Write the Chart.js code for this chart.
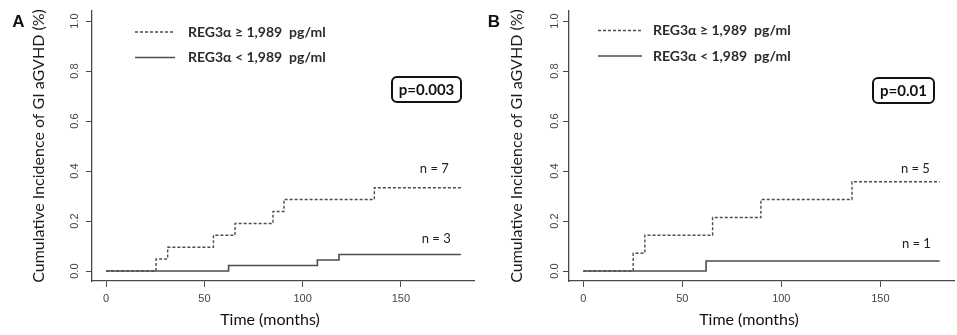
<!DOCTYPE html>
<html><head><meta charset="utf-8">
<script src="https://cdn.jsdelivr.net/npm/chart.js@4.4.1/dist/chart.umd.min.js"></script>
<style>
html,body{margin:0;padding:0;background:#fff;}
#wrap{position:relative;width:957px;height:335px;overflow:hidden;background:#fff;}
.panel{position:absolute;top:0;height:335px;}
</style></head><body>
<div id="wrap">
<div class="panel" style="left:0;width:479px"><canvas id="cA" width="479" height="335"></canvas></div>
<div class="panel" style="left:479px;width:478px"><canvas id="cB" width="478" height="335"></canvas></div>
</div>
<script>
// ---- data ----
const timeTicks = [0, 50, 100, 150];
const incidenceTicks = [0, 0.2, 0.4, 0.6, 0.8, 1.0];
const seriesLabels = ['REG3\u03b1 \u2265 1,989  pg/ml', 'REG3\u03b1 < 1,989  pg/ml'];
const panelLetters = ['A', 'B'];
const pValueLabels = ['p=0.003', 'p=0.01'];
const yAxisTitle = 'Cumulative Incidence of GI aGVHD (%)';
const xAxisTitle = 'Time (months)';

// Panel A
const aHighTime = [0, 25.4, 31.3, 54.6, 65.6, 84.9, 90.5, 136.5, 180.5];
const aHighCI   = [0, 0.048, 0.095, 0.143, 0.190, 0.238, 0.286, 0.333, 0.333];
const aLowTime  = [0, 62.3, 107.5, 118.5, 180.5];
const aLowCI    = [0, 0.022, 0.044, 0.066, 0.066];
const aCounts   = ['n = 7', 'n = 3'];

// Panel B
const bHighTime = [0, 25.2, 31.1, 65.3, 89.7, 135.7, 180];
const bHighCI   = [0, 0.071, 0.143, 0.214, 0.286, 0.357, 0.357];
const bLowTime  = [0, 62, 180];
const bLowCI    = [0, 0.040, 0.040];
const bCounts   = ['n = 5', 'n = 1'];

// ---- layout (pixels / data-unit anchors) ----
const LINE_COLOR = '#4d4d4d';
const AXIS_COLOR = '#4a4a4a';

const panels = [
  { canvas: 'cA', letter: panelLetters[0], p: pValueLabels[0], counts: aCounts,
    highT: aHighTime, highV: aHighCI, lowT: aLowTime, lowV: aLowCI,
    padLeft: 29, axisWidth: 63, padRight: 5, tickPad: 3,
    letterX: 18.5, legLine: [135, 175], legText: 188, legY: [32, 57.5],
    pBox: [392, 77, 69, 25], countPos: [[167, 0.408], [168, 0.128]], xTitleX: 270 },
  { canvas: 'cB', letter: panelLetters[1], p: pValueLabels[1], counts: bCounts,
    highT: bHighTime, highV: bHighCI, lowT: bLowTime, lowV: bLowCI,
    padLeft: 28, axisWidth: 62, padRight: 3, tickPad: 0,
    letterX: 15, legLine: [119, 163], legText: 174, legY: [30.5, 56],
    pBox: [394, 78, 61, 25], countPos: [[167.7, 0.408], [168.2, 0.108]], xTitleX: 270 }
];

function overlay(cfg) {
  return {
    id: 'overlay_' + cfg.canvas,
    afterDraw(chart) {
      const ctx = chart.ctx;
      const xs = chart.scales.x, ys = chart.scales.y;
      ctx.save();
      // panel letter
      ctx.fillStyle = '#111';
      ctx.font = 'bold 17px "Liberation Sans", Arial, sans-serif';
      ctx.textAlign = 'center';
      ctx.textBaseline = 'alphabetic';
      ctx.fillText(cfg.letter, cfg.letterX, 27);
      // legend
      for (let i = 0; i < 2; i++) {
        ctx.beginPath();
        ctx.strokeStyle = LINE_COLOR;
        ctx.lineWidth = 1.3;
        ctx.setLineDash(i === 0 ? [3, 2] : []);
        ctx.moveTo(cfg.legLine[0], cfg.legY[i]);
        ctx.lineTo(cfg.legLine[1], cfg.legY[i]);
        ctx.stroke();
        ctx.setLineDash([]);
        ctx.fillStyle = '#2b2b2b';
        ctx.font = 'bold 14px Lato, "Open Sans", sans-serif';
        ctx.textAlign = 'left';
        ctx.textBaseline = 'middle';
        ctx.fillText(seriesLabels[i], cfg.legText, cfg.legY[i]);
      }
      // p-value box
      const [bx, by, bw, bh] = cfg.pBox;
      ctx.beginPath();
      ctx.lineWidth = 2;
      ctx.strokeStyle = '#111';
      if (ctx.roundRect) ctx.roundRect(bx, by, bw, bh, 5); else ctx.rect(bx, by, bw, bh);
      ctx.stroke();
      ctx.fillStyle = '#111';
      ctx.font = 'bold 15px Lato, "Open Sans", sans-serif';
      ctx.textAlign = 'center';
      ctx.textBaseline = 'middle';
      ctx.fillText(cfg.p, bx + bw / 2, by + bh / 2 + 0.5);
      // n labels
      ctx.fillStyle = '#222';
      ctx.font = '13px Lato, "Open Sans", sans-serif';
      cfg.counts.forEach((t, i) => {
        const [cx, cy] = cfg.countPos[i];
        ctx.fillText(t, xs.getPixelForValue(cx), ys.getPixelForValue(cy));
      });
      // x axis title
      ctx.fillStyle = '#111';
      ctx.font = '16px Lato, "Open Sans", sans-serif';
      ctx.fillText(xAxisTitle, cfg.xTitleX, 320);
      ctx.restore();
    }
  };
}

function makePanel(cfg) {
  const toXY = (t, v) => t.map((x, i) => ({ x: x, y: v[i] }));
  new Chart(document.getElementById(cfg.canvas), {
    type: 'line',
    data: {
      datasets: [
        { label: seriesLabels[0], data: toXY(cfg.highT, cfg.highV), stepped: 'before',
          borderColor: LINE_COLOR, borderWidth: 1.4, borderDash: [3, 2], pointRadius: 0, fill: false },
        { label: seriesLabels[1], data: toXY(cfg.lowT, cfg.lowV), stepped: 'before',
          borderColor: LINE_COLOR, borderWidth: 1.6, pointRadius: 0, fill: false }
      ]
    },
    options: {
      responsive: false, animation: false, devicePixelRatio: 1,
      layout: { padding: { left: cfg.padLeft, right: cfg.padRight, top: 11, bottom: 0 } },
      plugins: { legend: { display: false }, tooltip: { enabled: false } },
      scales: {
        x: {
          type: 'linear', min: -7.2, max: 187.2,
          afterBuildTicks: s => { s.ticks = timeTicks.map(v => ({ value: v })); },
          afterFit: s => { s.height = 54; },
          grid: { drawOnChartArea: false, drawTicks: true, tickLength: 6, color: AXIS_COLOR, lineWidth: 1 },
          border: { color: AXIS_COLOR, width: 1.3 },
          ticks: { font: { family: '"Liberation Sans", Arial, sans-serif', size: 11 }, color: '#444',
                   padding: 5, minRotation: 0, maxRotation: 0, autoSkip: false,
                   callback: v => String(v) }
        },
        y: {
          type: 'linear', min: -0.04, max: 1.04,
          afterBuildTicks: s => { s.ticks = incidenceTicks.map(v => ({ value: v })); },
          afterFit: s => { s.width = cfg.axisWidth; },
          grid: { drawOnChartArea: false, drawTicks: true, tickLength: 6, color: AXIS_COLOR, lineWidth: 1 },
          border: { color: AXIS_COLOR, width: 1.3 },
          ticks: { font: { family: '"Liberation Sans", Arial, sans-serif', size: 11 }, color: '#444',
                   padding: cfg.tickPad, minRotation: 90, maxRotation: 90, crossAlign: 'center', autoSkip: false,
                   callback: v => Number(v).toFixed(1) },
          title: { display: true, text: yAxisTitle, color: '#1a1a1a',
                   font: { family: 'Lato, "Open Sans", sans-serif', size: 16 }, padding: { top: 0, bottom: 0 } }
        }
      }
    },
    plugins: [overlay(cfg)]
  });
}

panels.forEach(makePanel);
</script>
</body></html>
